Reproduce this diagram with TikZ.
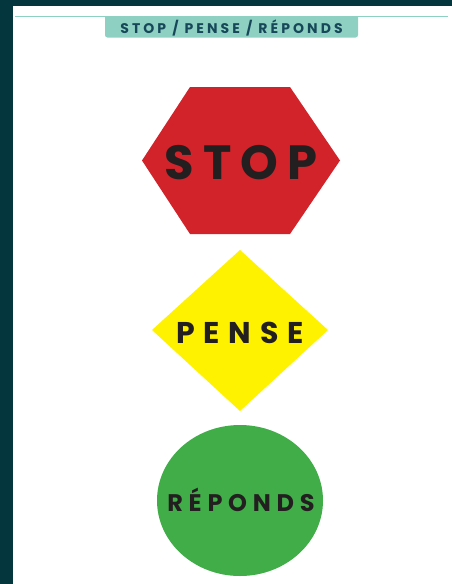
\documentclass[tikz,border=0pt]{standalone}
\usepackage{fontspec}
\newfontfamily\stopfont{Poppins}[LetterSpace=19]
\newfontfamily\pensefont{Poppins}[LetterSpace=29]
\newfontfamily\repfont{Poppins}[LetterSpace=24]
\newfontfamily\headfont{Poppins}[LetterSpace=22]
\definecolor{bandc}{HTML}{03363D}
\definecolor{tealc}{HTML}{8ED1C3}
\definecolor{headtxt}{HTML}{17485A}
\definecolor{stopred}{HTML}{D2232A}
\definecolor{penseyel}{HTML}{FFF200}
\definecolor{repgreen}{HTML}{41AD49}
\definecolor{signtxt}{HTML}{231F20}
\tikzset{
  signlabel/.style={text=signtxt, inner sep=0pt, anchor=center},
}
\begin{document}
\begin{tikzpicture}[x=1pt,y=-1pt]
\useasboundingbox (0,0) rectangle (452,584);
\fill[white] (0,0) rectangle (452,584);
% dark frame
\fill[bandc] (0,0) rectangle (452,6);
\fill[bandc] (0,0) rectangle (13,584);
% header line and tab
\draw[tealc, line width=1.5pt] (15,16.5) -- (448,16.5);
\begin{scope}
  \clip (0,16) rectangle (452,40);
  \fill[tealc, rounded corners=2.5pt] (105,8) rectangle (358,37.5);
\end{scope}
\node[text=headtxt, inner sep=0pt] (title) at (231.5,27.5)
  {\headfont\fontsize{14}{15}\selectfont\bfseries STOP / PENSE / RÉPONDS};
% STOP hexagon
\fill[stopred] (190,87) -- (290,87) -- (340,160.5) -- (290,234) -- (190,234) -- (142,160.5) -- cycle;
\node[signlabel] (stop) at (241,163)
  {\stopfont\fontsize{48}{50}\selectfont\bfseries STOP};
% PENSE diamond
\fill[penseyel] (240,250) -- (328,330) -- (240,411) -- (152,330) -- cycle;
\node[signlabel] (pense) at (240,332.5)
  {\pensefont\fontsize{30}{32}\selectfont\bfseries PENSE};
% REPONDS circle
\fill[repgreen] (240,500.5) ellipse [x radius=83, y radius=75.5];
\node[signlabel] (repond) at (241,500)
  {\repfont\fontsize{24}{26}\selectfont\bfseries RÉPONDS};
\end{tikzpicture}
\end{document}
